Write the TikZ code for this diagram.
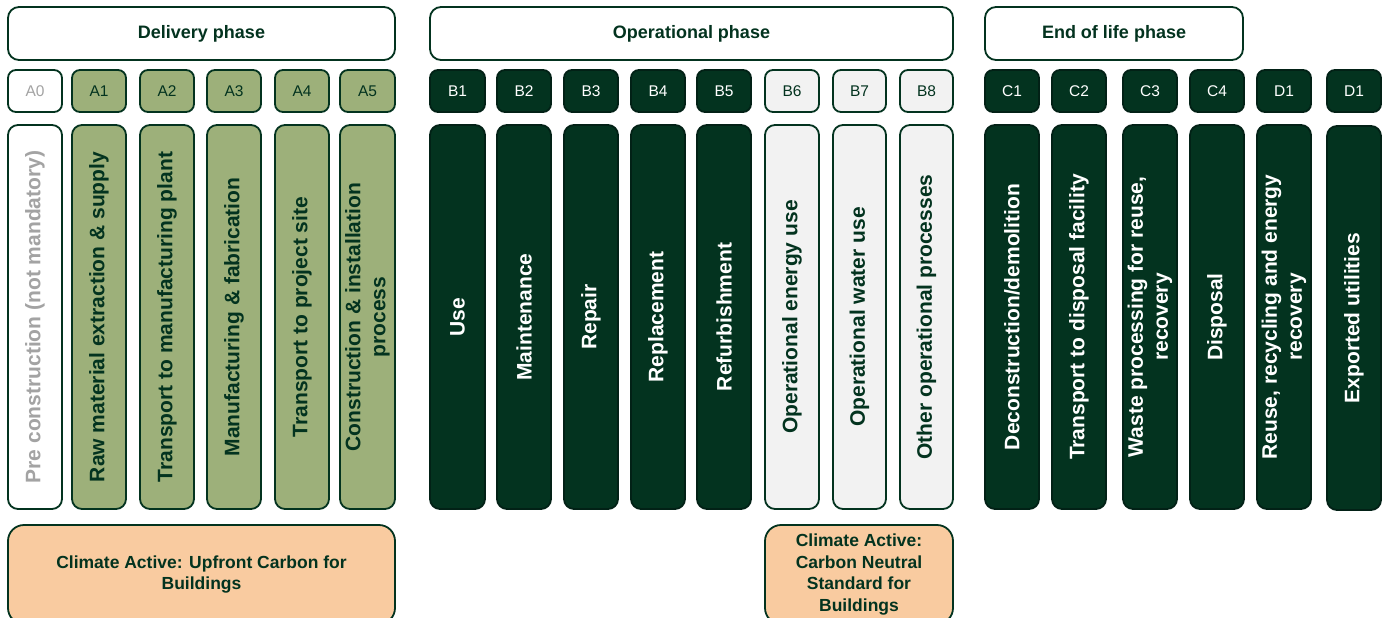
\documentclass[tikz,border=0pt]{standalone}
\usepackage{fontspec}
\setmainfont{Liberation Sans}
\definecolor{dkg}{HTML}{03331F}
\definecolor{dkline}{HTML}{022116}
\definecolor{olive}{HTML}{9DB07A}
\definecolor{lgray}{HTML}{F2F2F2}
\definecolor{peach}{HTML}{F9CBA0}
\definecolor{gtext}{HTML}{A3A3A3}
\begin{document}
\begin{tikzpicture}[x=1pt,y=-1pt]
\useasboundingbox (0,0) rectangle (1386,618);
\tikzset{
  box/.style={rounded corners=8pt, line width=1.8pt, inner sep=0pt, align=center},
  hdr/.style={box, draw=dkg, fill=white, text=dkg, rounded corners=11pt,
    minimum height=53pt, font=\bfseries\fontsize{18}{22}\selectfont},
  tag/.style={box, minimum width=54pt, minimum height=42pt, font=\fontsize{15.5}{18}\selectfont},
  col/.style={box, rotate=90, minimum width=384pt, minimum height=54pt, rounded corners=10pt,
    font=\bfseries\fontsize{21}{25}\selectfont},
  wht/.style={draw=dkg, fill=white, text=gtext},
  olv/.style={draw=dkg, fill=olive, text=dkg},
  drk/.style={draw=dkline, fill=dkg, text=white},
  lgt/.style={draw=dkg, fill=lgray, text=dkg},
  cab/.style={box, draw=dkg, fill=peach, text=dkg, rounded corners=16pt,
    minimum height=99pt, font=\bfseries\fontsize{17.5}{21.5}\selectfont}
}
% headers
\node[hdr, minimum width=387pt] (hA) at (201.5,33.5) {Delivery phase};
\node[hdr, minimum width=523pt] (hB) at (691.5,33.5) {Operational phase};
\node[hdr, minimum width=258pt] (hC) at (1114,33.5) {End of life phase};
% tags
\node[tag, wht] (tA0) at (35,91) {A0};
\node[tag, olv] (tA1) at (99,91) {A1};
\node[tag, olv] (tA2) at (167,91) {A2};
\node[tag, olv] (tA3) at (234,91) {A3};
\node[tag, olv] (tA4) at (302,91) {A4};
\node[tag, olv, minimum width=55pt] (tA5) at (367.5,91) {A5};
\node[tag, drk, minimum width=55pt] (tB1) at (457.5,91) {B1};
\node[tag, drk] (tB2) at (524,91) {B2};
\node[tag, drk] (tB3) at (591,91) {B3};
\node[tag, drk] (tB4) at (658,91) {B4};
\node[tag, drk] (tB5) at (724,91) {B5};
\node[tag, lgt] (tB6) at (792,91) {B6};
\node[tag, lgt, minimum width=53pt] (tB7) at (859.5,91) {B7};
\node[tag, lgt, minimum width=53pt] (tB8) at (926.5,91) {B8};
\node[tag, drk] (tC1) at (1012,91) {C1};
\node[tag, drk] (tC2) at (1079,91) {C2};
\node[tag, drk] (tC3) at (1150,91) {C3};
\node[tag, drk] (tC4) at (1217,91) {C4};
\node[tag, drk] (tD1) at (1284,91) {D1};
\node[tag, drk] (tD1b) at (1354,91) {D1};
% columns
\node[col, wht] (cA0) at (35,317) {Pre construction (not mandatory)};
\node[col, olv] (cA1) at (99,317) {Raw material extraction \& supply};
\node[col, olv] (cA2) at (167,317) {Transport to manufacturing plant};
\node[col, olv] (cA3) at (234,317) {Manufacturing \& fabrication};
\node[col, olv] (cA4) at (302,317) {Transport to project site};
\node[col, olv, minimum height=55pt] (cA5) at (367.5,317) {Construction \& installation\\process};
\node[col, drk, minimum height=55pt] (cB1) at (457.5,317) {Use};
\node[col, drk] (cB2) at (524,317) {Maintenance};
\node[col, drk] (cB3) at (591,317) {Repair};
\node[col, drk] (cB4) at (658,317) {Replacement};
\node[col, drk] (cB5) at (724,317) {Refurbishment};
\node[col, lgt] (cB6) at (792,317) {Operational energy use};
\node[col, lgt, minimum height=53pt] (cB7) at (859.5,317) {Operational water use};
\node[col, lgt, minimum height=53pt] (cB8) at (926.5,317) {Other operational processes};
\node[col, drk] (cC1) at (1012,317) {Deconstruction/demolition};
\node[col, drk] (cC2) at (1079,317) {Transport to disposal facility};
\node[col, drk] (cC3) at (1150,317) {Waste processing for reuse,\\recovery};
\node[col, drk] (cC4) at (1217,317) {Disposal};
\node[col, drk] (cD1) at (1284,317) {Reuse, recycling and energy\\recovery};
\node[col, drk] (cD1b) at (1354,318) {Exported utilities};
% Climate Active boxes
\node[cab, minimum width=387pt] (caU) at (201.5,574.5) {Climate Active: Upfront Carbon for\\Buildings};
\node[cab, minimum width=188pt] (caN) at (859,574.5) {Climate Active:\\Carbon Neutral\\Standard for\\Buildings};
\end{tikzpicture}
\end{document}
